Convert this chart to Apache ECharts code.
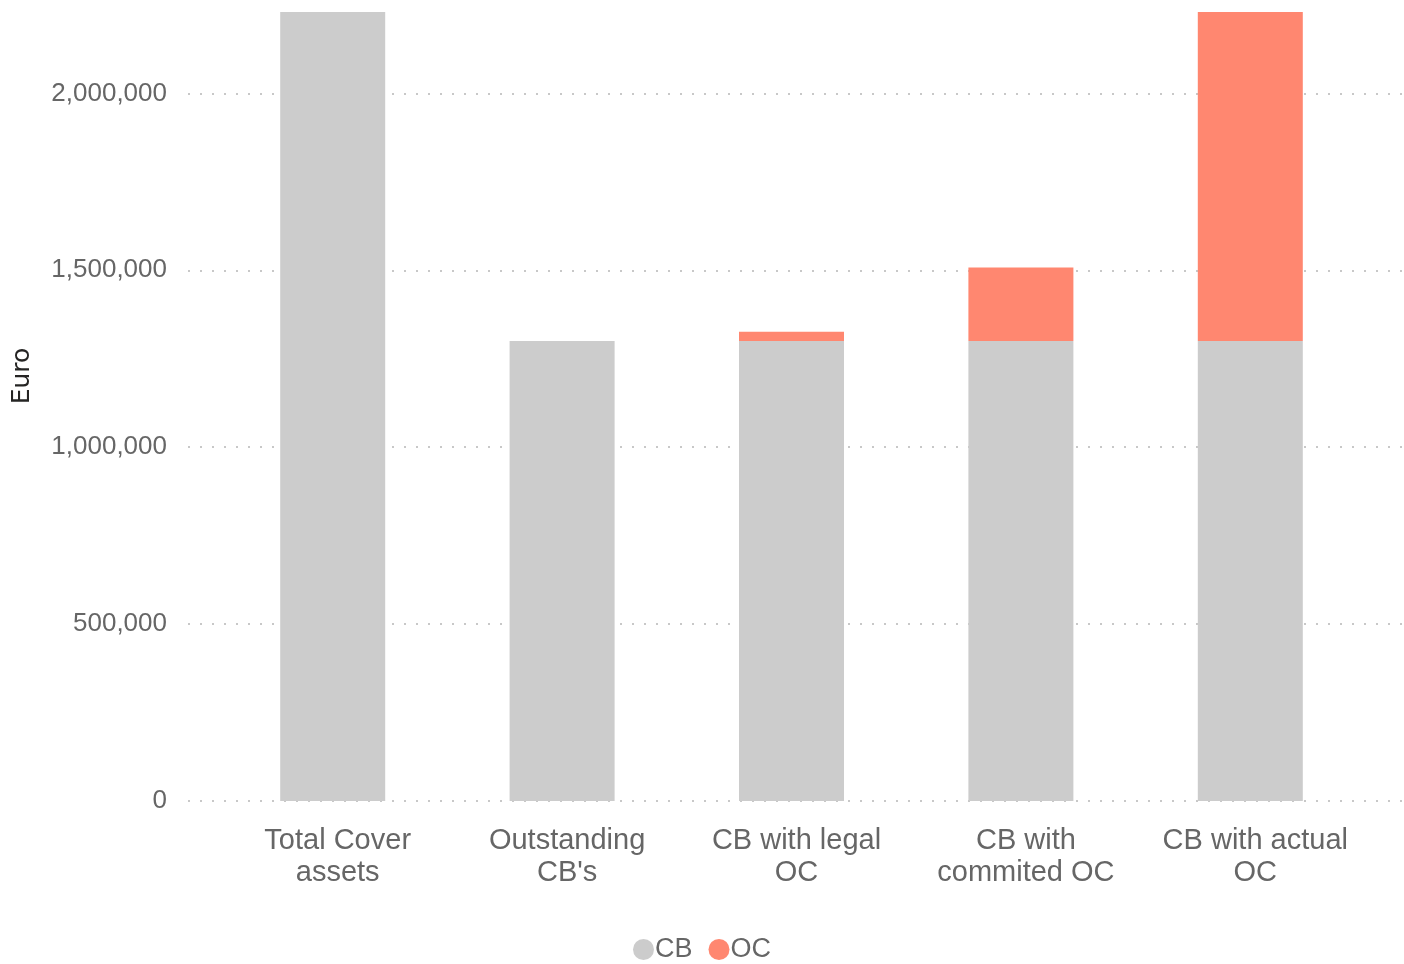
<!DOCTYPE html>
<html><head><meta charset="utf-8">
<script src="https://cdn.jsdelivr.net/npm/echarts@6/dist/echarts.min.js"></script>
<style>html,body{margin:0;padding:0;background:#fff}#c{width:1404px;height:964px}</style>
</head><body><div id="c"></div>
<script>
const categories = ["Total Cover\nassets", "Outstanding\nCB's", "CB with legal\nOC", "CB with\ncommited OC", "CB with actual\nOC"];
const cbValues = [2230000, 1300000, 1300000, 1300000, 1300000];
const ocValues = [null, null, 26000, 208000, 930000];
const yTicks = [0, 500000, 1000000, 1500000, 2000000];
const yMax = 2230000;

const chart = echarts.init(document.getElementById('c'));
const fmt = v => v.toLocaleString('en-US');
chart.setOption({
  animation: false,
  grid: [
    {left: 188, right: 0, top: 12, bottom: 163},
    {left: 218, right: 39, top: 12, bottom: 163}
  ],
  legend: {
    top: 931, left: 'center', icon: 'circle', itemWidth: 21, itemHeight: 21, itemGap: 16,
    textStyle: {fontFamily: 'Liberation Sans', fontSize: 27, color: '#666', padding: [0,0,0,-4]},
    data: ['CB', 'OC']
  },
  xAxis: [
    {gridIndex: 0, type: 'category', data: categories, show: false},
    {gridIndex: 1, type: 'category', data: categories,
     axisLine: {show: false}, axisTick: {show: false},
     axisLabel: {fontFamily: 'Liberation Sans', fontSize: 29, color: '#666', lineHeight: 32, margin: 24, interval: 0,
       padding: [0, 0, 0, 10]}}
  ],
  yAxis: [
    {gridIndex: 0, type: 'value', min: 0, max: yMax, interval: 500000,
     axisLine: {show: false}, axisTick: {show: false},
     axisLabel: {fontFamily: 'Liberation Sans', fontSize: 26, color: '#666', margin: 21, lineHeight: 30, padding: [5, 0, 0, 0],
       showMaxLabel: false, formatter: v => yTicks.includes(v) ? fmt(v) : ''},
     splitLine: {show: true, showMaxLine: false, lineStyle: {color: '#c8c8c8', width: 2, type: [2, 10]}}},
    {gridIndex: 1, type: 'value', min: 0, max: yMax, interval: 500000, show: false, splitLine: {show: false}}
  ],
  graphic: [{
    type: 'text', x: 22, y: 376, rotation: Math.PI / 2,
    style: {text: 'Euro', fontFamily: 'DejaVu Sans', fontSize: 25, fill: '#252423', textAlign: 'center', textVerticalAlign: 'middle'}
  }],
  series: [
    {name: 'CB', type: 'bar', stack: 's', xAxisIndex: 1, yAxisIndex: 1, barWidth: 105,
     itemStyle: {color: '#cccccc'}, data: cbValues},
    {name: 'OC', type: 'bar', stack: 's', xAxisIndex: 1, yAxisIndex: 1, barWidth: 105,
     itemStyle: {color: '#ff8770'}, data: ocValues}
  ]
});
</script></body></html>
